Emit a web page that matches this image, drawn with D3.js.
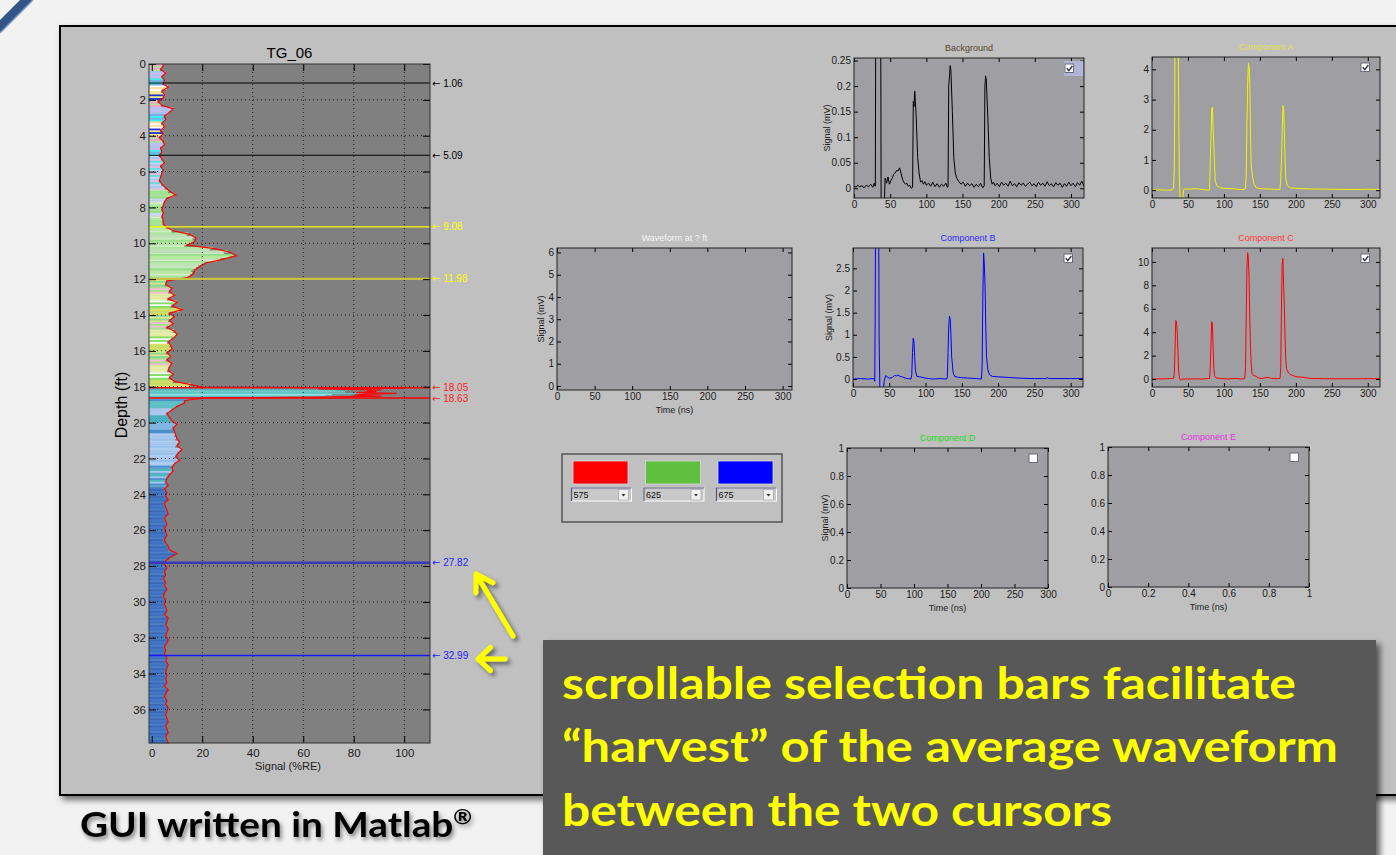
<!DOCTYPE html>
<html>
<head>
<meta charset="utf-8">
<script src="https://cdn.jsdelivr.net/npm/d3@7"></script>
<style>
  body { margin: 0; background: #f2f2f2; }
  svg { display: block; font-family: "Liberation Sans", Arial, sans-serif; }
</style>
</head>
<body>
<div id="chart"></div>
<script>
// ---- data ----

// depth log TG_06: signal (%RE), one value per 0.2 ft starting at 0 ft
const depthStep = 0.2;
const depthSignal = [
  4.5, 3.5, 5.5, 4, 5, 4.5, 6.5, 4, 5, 4.5, 2.5, 4, 8.5, 7, 5, 5.5, 4, 5, 3.5, 4.5, 3, 4.5, 5, 3.5, 4,
  3, 4, 5, 3.5, 4.5, 4, 3.5, 3, 4, 5.5, 7, 9.5, 6, 5, 4.5, 4, 4.6, 4, 4.5, 4.5, 6, 8.5, 15, 17.5, 17,
  14, 25, 31, 33.5, 28, 21.5, 19, 17, 16.5, 14.5, 6, 5.5, 8, 7, 9, 6.5, 10, 8, 12, 7, 9, 7, 8.5, 6, 9,
  10, 8.5, 6.5, 7.5, 8, 6, 7.5, 6, 8, 7, 6.5, 8.5, 7, 9, 16, 85, 95, 90, 20, 13, 10, 8, 6, 7, 8,
  10, 8.5, 9, 9.5, 10, 11, 10, 12, 10.5, 9.5, 11, 9, 8, 8.5, 7, 6, 5.5, 6.5, 5, 6, 5.5, 6.5, 5, 5.5, 6,
  6.5, 5, 5.5, 6, 5, 5.5, 6, 5, 5.5, 6.5, 7, 10, 7.5, 5.5, 5, 6, 5, 5.5, 4.5, 5.5, 5, 6, 5, 4.5, 5.5,
  5, 5.5, 6, 5, 6.5, 6, 5.5, 6.5, 6, 5.5, 6.5, 6, 5, 5.5, 5, 6, 5.5, 6.5, 6, 5.5, 6, 5.5, 6, 5, 6.5,
  5.5, 5, 6, 5.5, 6.5, 6, 5.5, 6, 6.5, 5.5, 6, 6.5, 5.5, 6, 6.5
];
// finer reading of the strong reflector, 0.05 ft steps from 18.0 ft (replaces the 18.0-18.8 bins)
const spikeStart = 18.0;
const spikeStep = 0.05;
const spikeSignal = [20, 100, 66, 91, 85, 89, 81, 97, 83, 80, 91, 64, 22, 18, 15, 13];
const depthMax = 37.87;
const depthTicks = [0, 2, 4, 6, 8, 10, 12, 14, 16, 18, 20, 22, 24, 26, 28, 30, 32, 34, 36];
const signalTicks = [0, 20, 40, 60, 80, 100];
const cursorDepths = [1.06, 5.09, 9.08, 11.98, 18.05, 18.63, 27.82, 32.99];

// component waveforms: [time (ns), signal (mV)]
const bgWave = [
  [0, 0.004], [3, 0.002], [5, 0.006], [8, 0.003], [11, 0.005], [14, 0.001], [17, 0.006], [20, 0.003],
  [23, 0.008], [26, 0.002], [28, 0.01], [29.5, 0.004], [30, 0.3], [37, 0.3], [37.5, -0.03], [42, -0.03],
  [43, 0.02], [45, 0.01], [47, 0.022], [49, 0.008], [51, 0.015], [53, 0.02], [55, 0.028], [57, 0.03],
  [59, 0.035], [61, 0.034], [63, 0.04], [65, 0.03], [67, 0.018], [69, 0.012], [71, 0.008], [73, 0.01],
  [75, 0.004], [77, 0.006], [79, 0], [81, 0.002], [82, 0.17], [83, 0.16], [84, 0.19], [86, 0.14],
  [88, 0.06], [90, 0.03], [92, 0.012], [94, 0.015], [96, 0.008], [98, 0.013], [100, 0.006], [103, 0.01],
  [106, 0.004], [109, 0.012], [112, 0.003], [115, 0.009], [118, 0.002], [121, 0.008], [124, 0.004],
  [127, 0.01], [129, 0.002], [130, 0.003], [131, 0.2], [132, 0.22], [133, 0.24], [134, 0.23], [136, 0.15],
  [138, 0.06], [140, 0.03], [142, 0.02], [145, 0.013], [148, 0.008], [151, 0.012], [154, 0.004],
  [157, 0.01], [160, 0.005], [163, 0.009], [166, 0.002], [169, 0.008], [172, 0.003], [175, 0.01],
  [178, 0.001], [180, 0.005], [181, 0.2], [182, 0.22], [183, 0.21], [185, 0.14], [187, 0.06], [189, 0.02],
  [191, 0.008], [193, 0.012], [195, 0.005], [198, 0.01], [201, 0.003], [204, 0.012], [207, 0.006],
  [210, 0.01], [213, 0.004], [216, 0.014], [219, 0.005], [222, 0.009], [225, 0.003], [228, 0.011],
  [231, 0.006], [234, 0.01], [237, 0.004], [240, 0.008], [243, 0.012], [246, 0.005], [249, 0.009],
  [252, 0.003], [255, 0.012], [258, 0.006], [261, 0.01], [264, 0.004], [267, 0.013], [270, 0.005],
  [273, 0.009], [276, 0.003], [279, 0.011], [282, 0.006], [285, 0.01], [288, 0.002], [291, 0.009],
  [294, 0.004], [297, 0.012], [300, 0.005], [303, 0.01], [306, 0.003], [309, 0.011], [312, 0.006],
  [315, 0.014], [318, 0.004]
];
const compA = [
  [0, 0], [10, 0.01], [20, 0], [28, 0.01], [30, 0.05], [31, 0.7], [31.5, 2.3], [32, 5], [36.5, 5],
  [37, 3.1], [38, 0.4], [39, -0.3], [41, -0.35], [43, -0.25], [44, 0.02], [46, 0.05], [50, 0.03],
  [55, 0.04], [60, 0.05], [65, 0.04], [70, 0.02], [75, 0.01], [80, 0], [81, 0.9], [82, 1.7], [83, 2.7],
  [84, 2.75], [85, 2.0], [86, 1.5], [87, 0.8], [88, 0.3], [90, 0.15], [95, 0.08], [100, 0.06],
  [110, 0.05], [120, 0.03], [128, 0.02], [130, 0.05], [131, 0.5], [132, 2.2], [133, 3.5], [134, 4.2],
  [135, 4.1], [136, 3.5], [137, 1.8], [138, 0.8], [140, 0.4], [142, 0.2], [145, 0.08], [150, 0.05],
  [160, 0.04], [170, 0.03], [178, 0.02], [179, 0.4], [180, 1.0], [181, 1.9], [182, 2.8], [183, 2.7],
  [184, 2.0], [185, 1.0], [186, 0.4], [188, 0.15], [192, 0.08], [200, 0.06], [220, 0.04], [250, 0.03],
  [280, 0.02], [300, 0.03], [320, 0.02]
];
const compB = [
  [0, 0], [10, 0.01], [20, 0], [29, 0.01], [30, -0.05], [30.5, 1.3], [31, 3.2], [35.5, 3.2], [36, 0.9],
  [37, -0.2], [42, -0.2], [43, -0.05], [45, 0.08], [47, 0.05], [50, 0.02], [54, 0.03], [57, 0.08],
  [60, 0.07], [62, 0.09], [65, 0.06], [68, 0.05], [72, 0.02], [76, 0.01], [80, 0], [81, 0.1], [82, 0.6],
  [83, 0.92], [84, 0.85], [85, 0.5], [86, 0.2], [88, 0.06], [92, 0.05], [100, 0.02], [110, 0],
  [120, 0.01], [129, 0], [130, 0.05], [131, 0.6], [132, 1.2], [133, 1.42], [134, 1.35], [135, 1.0],
  [136, 0.5], [138, 0.15], [140, 0.06], [145, 0.04], [150, 0.03], [160, 0.02], [170, 0.01], [177, 0],
  [178, 0.3], [179, 1.9], [180, 2.85], [181, 2.6], [182, 2.1], [183, 1.2], [184, 0.5], [186, 0.2],
  [188, 0.1], [192, 0.06], [200, 0.05], [210, 0.04], [220, 0.03], [230, 0.02], [250, 0.01], [266, 0.01],
  [268, 0.03], [270, 0.01], [300, 0.01], [320, 0.01]
];
const compC = [
  [0, 0], [20, 0.02], [30, 0.05], [31, 0.4], [32, 2.5], [33, 5.0], [34, 4.9], [35, 4.1], [36, 2.5],
  [37, 0.7], [38, 0.2], [39, -0.05], [40, -0.1], [42, 0], [50, 0], [60, 0.02], [70, 0], [80, 0.05],
  [81, 1.0], [82, 2.8], [83, 4.9], [84, 4.7], [85, 2.7], [86, 0.9], [87, 0.3], [89, 0.1], [95, 0.05],
  [105, 0], [115, 0.05], [125, 0], [129, 0.05], [130, 1.0], [131, 5.5], [132, 9.5], [133, 10.8],
  [134, 10.3], [135, 8.5], [136, 5.0], [137, 2.5], [138, 1.2], [139, 0.5], [141, 0.3], [144, 0.25],
  [148, 0.1], [152, 0.05], [157, 0.1], [162, 0.15], [166, 0.05], [172, 0.03], [178, 0.05], [179, 1.0],
  [180, 6.0], [181, 9.8], [182, 10.3], [183, 8.0], [184, 6.2], [185, 3.5], [186, 1.6], [187, 0.9],
  [189, 0.6], [192, 0.4], [196, 0.3], [200, 0.2], [210, 0.15], [220, 0.05], [240, 0.03], [260, 0.02],
  [280, 0.02], [300, 0.03], [320, 0.02]
];

const timeTicks = [0, 50, 100, 150, 200, 250, 300];
const bgTicks = [0, 0.05, 0.1, 0.15, 0.2, 0.25];
const aTicks = [0, 1, 2, 3, 4];
const bTicks = [0, 0.5, 1, 1.5, 2, 2.5];
const cTicks = [0, 2, 4, 6, 8, 10];
const unitTicks = [0, 0.2, 0.4, 0.6, 0.8, 1];
const waveTicks = [0, 1, 2, 3, 4, 5, 6];
const wavelengths = [575, 625, 675];

// ---- styles ----
const cursorStyle = [
  { c: '#000000', t: '#000000', w: 1.2 }, { c: '#000000', t: '#000000', w: 1.2 },
  { c: '#ffff00', t: '#ffff00', w: 1.2 }, { c: '#c8c040', t: '#ffff00', w: 2.2 },
  { c: '#ff0000', t: '#ff2020', w: 1.5 }, { c: '#ff0000', t: '#ff2020', w: 1.5 },
  { c: '#3838b8', t: '#2020ff', w: 2.5 }, { c: '#1818ff', t: '#2020ff', w: 1.4 }
];
// colour zones of the depth fill (from depth, palette)
const zones = [
  [0, ['#f4a6c8', '#a8c8f4', '#40f0f0', '#ffffff', '#f0f080', '#b0e0a0', '#c8b8f0', '#70b0e8', '#ffe0a0', '#2030e0']],
  [5.1, ['#a8c8f4', '#c0d8f0', '#a0e8a0', '#60e0e0', '#ffffff', '#e0c0e0', '#b0d0f0']],
  [7.0, ['#a0e890', '#b8e8b0', '#d0f0c0', '#c8d8f0', '#90e080', '#b0e0a0']],
  [9.0, ['#c0e4b8', '#a8e898', '#d0ecc8', '#b8e8a0', '#98e088', '#c8e8c0']],
  [12.0, ['#d8e890', '#a8e090', '#e8e8a0', '#ffffff', '#c0e070', '#90d890', '#f0c0d0', '#e0f0b0', '#80e060', '#e0e060']],
  [18.0, ['#58c0c8', '#48b8c0', '#70d0d0', '#60c8c8', '#90e0e0']],
  [18.65, ['#4ab0c0', '#80b8e8', '#4a90c8', '#60c0c8', '#a8c8f0']],
  [20.6, ['#a8c8f0', '#b0d0f4', '#98c0ec']],
  [22.4, ['#50b8c0', '#a0c8f0', '#4a90d0', '#60a8c8']],
  [23.6, ['#4a80c8', '#3c70c0', '#5890d0', '#4478c8', '#50a0c8', '#3a68b8', '#4c88cc']]
];
const frameBg = '#c0c0c0';
const plotBg = '#9f9fa3';
const fontUI = '"Liberation Sans", Arial, sans-serif';

const W = 1396, H = 855;
const svg = d3.select('#chart').append('svg').attr('width', W).attr('height', H);
const defs = svg.append('defs');

function shadow(id, dx, dy, sd, op) {
  defs.append('filter').attr('id', id)
    .attr('x', '-20%').attr('y', '-20%').attr('width', '140%').attr('height', '140%')
    .append('feDropShadow')
    .attr('dx', dx).attr('dy', dy).attr('stdDeviation', sd)
    .attr('flood-color', '#000').attr('flood-opacity', op);
}
shadow('frameShadow', 3, 4, 3, 0.55);
shadow('boxShadow', 4, 4, 3, 0.6);
shadow('textShadow', 2, 3, 2, 0.45);
shadow('arrowShadow', 3, 3, 2, 0.5);

// slide decoration, top-left corner
svg.append('polygon').attr('points', '20,0 33,0 0,33 0,20').attr('fill', '#33568a');
svg.append('line').attr('x1', 33).attr('y1', 0).attr('x2', 0).attr('y2', 33)
  .attr('stroke', '#7f9cc4').attr('stroke-width', 1.5);

// GUI window
svg.append('rect').attr('x', 60).attr('y', 26).attr('width', 1400).attr('height', 769)
  .attr('fill', frameBg).attr('stroke', '#000').attr('stroke-width', 2)
  .attr('filter', 'url(#frameShadow)');

// ---------------- depth log ----------------
const dp = { l: 149, t: 64, w: 281, h: 679 };
const dx = d3.scaleLinear().domain([-1.1, 110.2]).range([dp.l, dp.l + dp.w]);
const dy = d3.scaleLinear().domain([0, depthMax]).range([dp.t, dp.t + dp.h]);

const dg = svg.append('g');
dg.append('rect').attr('x', dp.l).attr('y', dp.t).attr('width', dp.w).attr('height', dp.h).attr('fill', '#808080');

function zonePalette(d) {
  let p = zones[0][1];
  zones.forEach(z => { if (d >= z[0] - 1e-9) p = z[1]; });
  return p;
}
const spikeEnd = spikeStart + spikeSignal.length * spikeStep;
// bins: {d0, size, v}
const bins = [];
depthSignal.forEach((v, i) => {
  const d0 = i * depthStep;
  if (d0 >= spikeStart - 1e-9 && d0 < spikeEnd - 1e-9) return;
  bins.push({ d0: d0, size: depthStep, v: v });
});
spikeSignal.forEach((v, i) => bins.push({ d0: spikeStart + i * spikeStep, size: spikeStep, v: v }));
bins.sort((a, b) => a.d0 - b.d0);

const slices = [];
bins.forEach((b, i) => {
  const parts = b.size > 0.1 ? 2 : 1;
  for (let j = 0; j < parts; j++) {
    const d0 = b.d0 + j * b.size / parts;
    const k = i * 2 + j;
    const pal = zonePalette(d0);
    const f = b.v > 40 ? 0.86 : (j ? 0.92 : 0.97);
    slices.push({ d0, h: b.size / parts, v: b.v * f, c: pal[(k * 5 + (k >> 2)) % pal.length] });
  }
});
dg.append('g').selectAll('rect').data(slices).join('rect')
  .attr('x', dp.l)
  .attr('y', d => dy(d.d0))
  .attr('width', d => Math.max(0, dx(d.v) - dp.l))
  .attr('height', d => Math.min(dy(d.d0 + d.h), dp.t + dp.h) - dy(d.d0) + 0.4)
  .attr('fill', d => d.c);

const linePts = bins.map(b => [b.v, b.d0 + b.size / 2]);
linePts.unshift([bins[0].v, 0]);
linePts.push([bins[bins.length - 1].v, depthMax]);
dg.append('path').datum(linePts)
  .attr('fill', 'none').attr('stroke', '#ff0000').attr('stroke-width', 1.2)
  .attr('d', d3.line().x(d => dx(d[0])).y(d => dy(d[1])));

// dotted grid
dg.append('g').selectAll('line').data(signalTicks.slice(1)).join('line')
  .attr('x1', d => dx(d)).attr('x2', d => dx(d)).attr('y1', dp.t).attr('y2', dp.t + dp.h)
  .attr('stroke', '#000').attr('stroke-dasharray', '1,3').attr('stroke-opacity', 0.8);
dg.append('g').selectAll('line').data(depthTicks.slice(1)).join('line')
  .attr('x1', dp.l).attr('x2', dp.l + dp.w).attr('y1', d => dy(d)).attr('y2', d => dy(d))
  .attr('stroke', '#000').attr('stroke-dasharray', '1,3').attr('stroke-opacity', 0.8);

// cursors
cursorDepths.forEach((d, i) => {
  const s = cursorStyle[i];
  dg.append('line').attr('x1', dp.l).attr('x2', dp.l + dp.w).attr('y1', dy(d)).attr('y2', dy(d))
    .attr('stroke', s.c).attr('stroke-width', s.w);
  const t = dg.append('text').attr('x', dp.l + dp.w + 2).attr('y', dy(d) + 3.5)
    .attr('font-size', 10).attr('fill', s.t).attr('font-family', fontUI);
  t.append('tspan').attr('font-family', '"DejaVu Sans", sans-serif').attr('font-size', 10).text('\u2190');
  t.append('tspan').text(' ' + d.toFixed(2));
});

function styleAxis(g, size) {
  g.select('.domain').remove();
  g.attr('font-size', size).attr('font-family', fontUI).attr('color', '#000');
  g.selectAll('text').attr('fill', '#1a1a1a');
}
dg.append('g').attr('transform', `translate(0,${dp.t + dp.h})`)
  .call(d3.axisBottom(dx).tickValues(signalTicks).tickSize(-7).tickPadding(6))
  .call(g => styleAxis(g, 11.5));
dg.append('g').attr('transform', `translate(0,${dp.t})`)
  .call(d3.axisTop(dx).tickValues(signalTicks).tickSize(-7).tickFormat(''))
  .call(g => styleAxis(g, 11));
dg.append('g').attr('transform', `translate(${dp.l},0)`)
  .call(d3.axisLeft(dy).tickValues(depthTicks).tickSize(-7).tickPadding(3))
  .call(g => styleAxis(g, 11.5));
dg.append('g').attr('transform', `translate(${dp.l + dp.w},0)`)
  .call(d3.axisRight(dy).tickValues(depthTicks).tickSize(-7).tickFormat(''))
  .call(g => styleAxis(g, 11));
dg.append('rect').attr('x', dp.l).attr('y', dp.t).attr('width', dp.w).attr('height', dp.h)
  .attr('fill', 'none').attr('stroke', '#333').attr('stroke-width', 1);

dg.append('text').attr('x', dp.l + dp.w / 2).attr('y', 58).attr('text-anchor', 'middle')
  .attr('font-size', 15).attr('font-family', fontUI).attr('fill', '#000').text('TG_06');
dg.append('text').attr('transform', `translate(127,405) rotate(-90)`).attr('text-anchor', 'middle')
  .attr('font-size', 16).attr('font-family', fontUI).attr('fill', '#000').text('Depth (ft)');
dg.append('text').attr('x', 288).attr('y', 770).attr('text-anchor', 'middle')
  .attr('font-size', 11).attr('font-family', fontUI).attr('fill', '#222').text('Signal (%RE)');

// ---------------- small waveform panels ----------------
const panels = [
  { id: 'wave', l: 557, t: 248, w: 235, h: 142, xd: [0, 312.5], yd: [-0.18, 6.2], xt: timeTicks, yt: waveTicks,
    title: 'Waveform at ? ft', tc: '#f4f4f4', yl: 16, xl: true },
  { id: 'bg', l: 854, t: 58, w: 230, h: 140, xd: [0, 318], yd: [-0.019, 0.255], xt: timeTicks, yt: bgTicks,
    title: 'Background', tc: '#5e4228', yl: 27, data: bgWave, col: '#000', check: true, hi: true },
  { id: 'a', l: 1152, t: 57, w: 228, h: 141, xd: [0, 317], yd: [-0.26, 4.41], xt: timeTicks, yt: aTicks,
    title: 'Component A', tc: '#e0e050', data: compA, col: '#f4f400', check: true },
  { id: 'b', l: 853, t: 248, w: 230, h: 139, xd: [0, 317], yd: [-0.18, 2.96], xt: timeTicks, yt: bTicks,
    title: 'Component B', tc: '#2a2aff', yl: 24, data: compB, col: '#0000ff', check: true },
  { id: 'c', l: 1152, t: 248, w: 228, h: 139, xd: [0, 317], yd: [-0.68, 11.19], xt: timeTicks, yt: cTicks,
    title: 'Component C', tc: '#ff3838', data: compC, col: '#ff0000', check: true },
  { id: 'd', l: 847, t: 448, w: 201, h: 140, xd: [0, 300], yd: [0, 1], xt: timeTicks, yt: unitTicks,
    title: 'Component D', tc: '#22dd22', yl: 22, xl: true, check: false },
  { id: 'e', l: 1108, t: 447, w: 201, h: 140, xd: [0, 1], yd: [0, 1], xt: unitTicks, yt: unitTicks,
    title: 'Component E', tc: '#e030e0', xl: true, check: false }
];

const fmt = d => String(+d.toFixed(3));

panels.forEach(p => {
  const g = svg.append('g');
  const x = d3.scaleLinear().domain(p.xd).range([p.l, p.l + p.w]);
  const y = d3.scaleLinear().domain(p.yd).range([p.t + p.h, p.t]);
  g.append('rect').attr('x', p.l).attr('y', p.t).attr('width', p.w).attr('height', p.h).attr('fill', plotBg);

  if (p.data) {
    defs.append('clipPath').attr('id', 'clip-' + p.id)
      .append('rect').attr('x', p.l).attr('y', p.t).attr('width', p.w).attr('height', p.h);
    g.append('path').datum(p.data)
      .attr('clip-path', `url(#clip-${p.id})`)
      .attr('fill', 'none').attr('stroke', p.col).attr('stroke-width', 1)
      .attr('d', d3.line().x(d => x(d[0])).y(d => y(d[1])));
  }

  g.append('g').attr('transform', `translate(0,${p.t + p.h})`)
    .call(d3.axisBottom(x).tickValues(p.xt).tickSize(-4).tickPadding(3).tickFormat(fmt))
    .call(a => styleAxis(a, 10));
  g.append('g').attr('transform', `translate(0,${p.t})`)
    .call(d3.axisTop(x).tickValues(p.xt).tickSize(-4).tickFormat(''))
    .call(a => styleAxis(a, 10));
  g.append('g').attr('transform', `translate(${p.l},0)`)
    .call(d3.axisLeft(y).tickValues(p.yt).tickSize(-4).tickPadding(3).tickFormat(fmt))
    .call(a => styleAxis(a, 10));
  g.append('g').attr('transform', `translate(${p.l + p.w},0)`)
    .call(d3.axisRight(y).tickValues(p.yt).tickSize(-4).tickFormat(''))
    .call(a => styleAxis(a, 10));
  g.append('rect').attr('x', p.l).attr('y', p.t).attr('width', p.w).attr('height', p.h)
    .attr('fill', 'none').attr('stroke', '#222').attr('stroke-width', 1);

  g.append('text').attr('x', p.l + p.w / 2).attr('y', p.t - 7).attr('text-anchor', 'middle')
    .attr('font-size', 9).attr('font-family', fontUI).attr('fill', p.tc).text(p.title);
  if (p.yl) {
    g.append('text').attr('transform', `translate(${p.l - p.yl + 3},${p.t + p.h / 2}) rotate(-90)`)
      .attr('text-anchor', 'middle').attr('font-size', 9).attr('font-family', fontUI)
      .attr('fill', '#222').text('Signal (mV)');
  }
  if (p.xl) {
    g.append('text').attr('x', p.l + p.w / 2).attr('y', p.t + p.h + 23).attr('text-anchor', 'middle')
      .attr('font-size', 9).attr('font-family', fontUI).attr('fill', '#222').text('Time (ns)');
  }
  if (p.check !== undefined) {
    const cx = p.l + p.w - 19, cy = p.t + 6;
    if (p.hi) g.append('rect').attr('x', cx - 1).attr('y', cy - 3).attr('width', 19).attr('height', 15).attr('fill', '#b4b4d8');
    g.append('rect').attr('x', cx).attr('y', cy).attr('width', 8.5).attr('height', 8.5)
      .attr('fill', '#fff').attr('stroke', '#6a6a80').attr('stroke-width', 1);
    if (p.check) {
      g.append('path').attr('d', `M${cx + 1.8},${cy + 4.2} l2,2.4 l3.6,-4.6`)
        .attr('fill', 'none').attr('stroke', '#303050').attr('stroke-width', 1.4);
    }
  }
});

// ---------------- RGB wavelength selector ----------------
const sel = svg.append('g');
sel.append('rect').attr('x', 562).attr('y', 454).attr('width', 220).attr('height', 68)
  .attr('fill', 'none').attr('stroke', '#3a3a3a').attr('stroke-width', 1.2);
const swatchColors = ['#ff0000', '#5fbf3f', '#0000ff'];
const swatchX = d3.scalePoint().domain(wavelengths).range([573, 718]);
wavelengths.forEach((wl, i) => {
  const sx = swatchX(wl);
  sel.append('rect').attr('x', sx).attr('y', 461).attr('width', 55).attr('height', 23)
    .attr('fill', swatchColors[i]).attr('stroke', '#d8d8d8').attr('stroke-width', 0.8);
  const bx = sx - 1.5;
  sel.append('rect').attr('x', bx).attr('y', 488).attr('width', 60).attr('height', 13)
    .attr('fill', '#c8c8c8').attr('stroke', '#fff').attr('stroke-width', 1);
  sel.append('path').attr('d', `M${bx},${501} V488 H${bx + 60}`)
    .attr('fill', 'none').attr('stroke', '#55557a').attr('stroke-width', 1.2);
  sel.append('text').attr('x', bx + 2).attr('y', 498).attr('font-size', 9).attr('font-family', fontUI)
    .attr('fill', '#111').text(wl);
  sel.append('rect').attr('x', bx + 47).attr('y', 489.5).attr('width', 10).attr('height', 10.5)
    .attr('fill', '#f0f0f0').attr('stroke', '#999').attr('stroke-width', 0.6);
  sel.append('path').attr('d', `M${bx + 50},${494} h4 l-2,2.4 z`).attr('fill', '#333');
});

// ---------------- annotations ----------------
function arrowPath(x1, y1, x2, y2, len, ang) {
  const a = Math.atan2(y2 - y1, x2 - x1);
  const p = d3.path();
  p.moveTo(x1, y1); p.lineTo(x2, y2);
  p.moveTo(x2 - len * Math.cos(a - ang), y2 - len * Math.sin(a - ang));
  p.lineTo(x2, y2);
  p.lineTo(x2 - len * Math.cos(a + ang), y2 - len * Math.sin(a + ang));
  return p.toString();
}
const ann = svg.append('g').attr('filter', 'url(#arrowShadow)');
ann.append('path').attr('d', arrowPath(513, 636, 476, 574, 19, 0.55))
  .attr('fill', 'none').attr('stroke', '#ffff00').attr('stroke-width', 5)
  .attr('stroke-linecap', 'round').attr('stroke-linejoin', 'round');
ann.append('path').attr('d', arrowPath(505, 659, 478, 659, 17, 0.75))
  .attr('fill', 'none').attr('stroke', '#ffff00').attr('stroke-width', 5)
  .attr('stroke-linecap', 'round').attr('stroke-linejoin', 'round');

svg.append('rect').attr('x', 543).attr('y', 640).attr('width', 833).attr('height', 230)
  .attr('fill', '#595959').attr('filter', 'url(#boxShadow)');
const lines = [
  { s: 'scrollable selection bars facilitate', y: 699, w: 734 },
  { s: '\u201charvest\u201d of the average waveform', y: 762, w: 776 },
  { s: 'between the two cursors', y: 826, w: 550 }
];
svg.append('g').selectAll('text').data(lines).join('text')
  .attr('x', 562).attr('y', d => d.y)
  .attr('font-family', 'Lato, "Open Sans", sans-serif').attr('font-weight', 700).attr('font-size', 44)
  .attr('fill', '#ffff00')
  .attr('textLength', d => d.w).attr('lengthAdjust', 'spacingAndGlyphs')
  .text(d => d.s);

svg.append('text').attr('x', 80).attr('y', 837).attr('font-family', 'Lato, "Open Sans", sans-serif')
  .attr('font-weight', 700).attr('font-size', 34).attr('fill', '#000')
  .attr('textLength', 392).attr('lengthAdjust', 'spacingAndGlyphs')
  .attr('filter', 'url(#textShadow)')
  .text('GUI written in Matlab')
  .append('tspan').attr('font-size', 20).attr('dy', -13).text('\u00ae');
</script>
</body>
</html>
